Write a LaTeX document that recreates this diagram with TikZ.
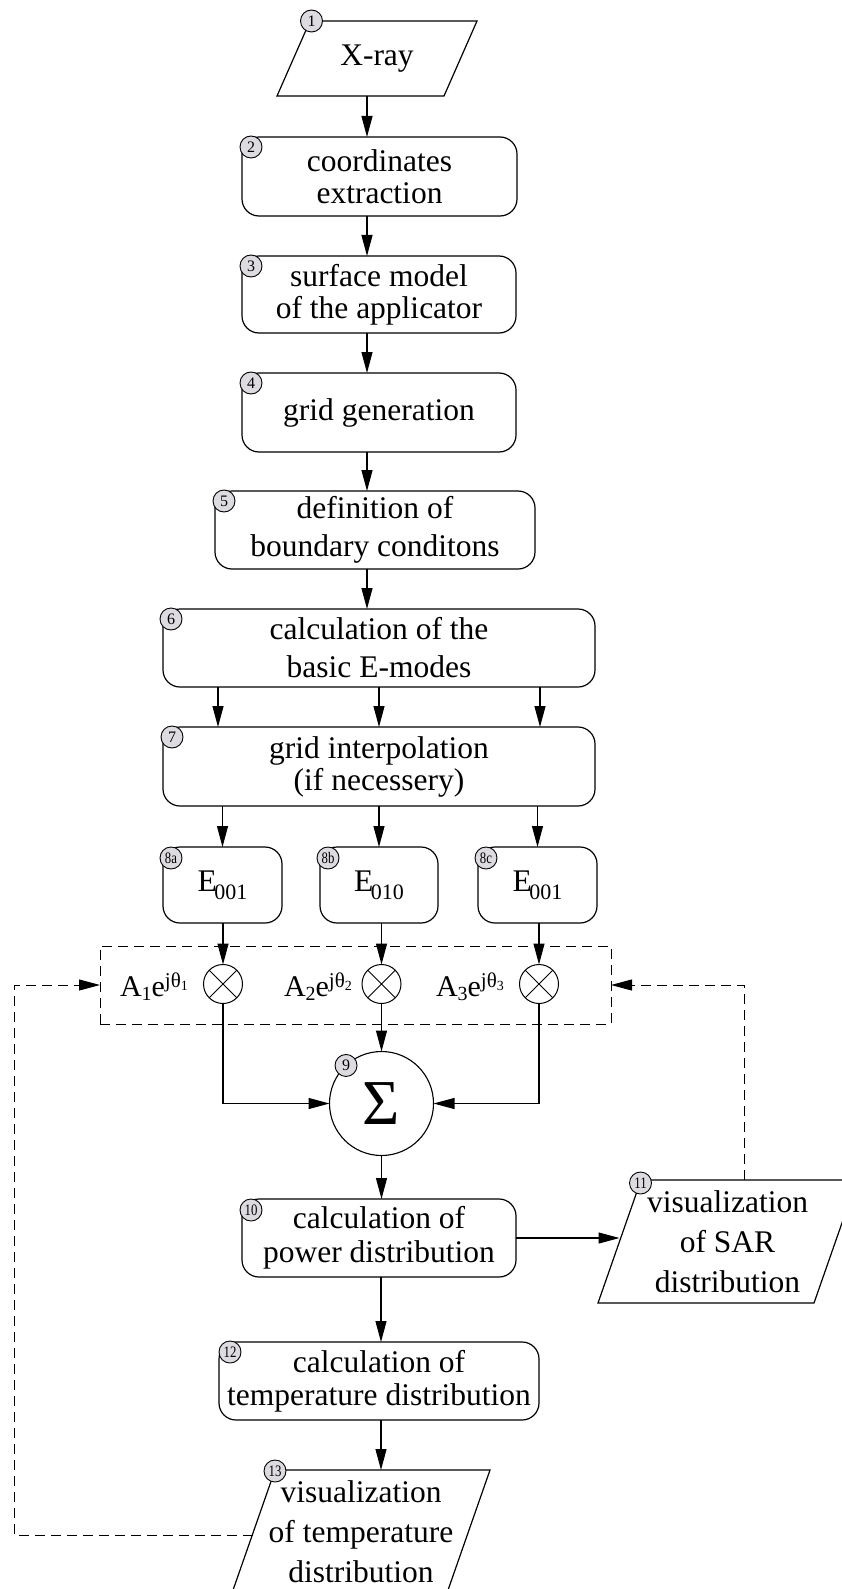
\documentclass[tikz,border=0pt]{standalone}
\usepackage{fontspec}
\setmainfont{Liberation Serif}
\usepackage{graphicx}
\usetikzlibrary{arrows.meta}
\definecolor{lblgray}{RGB}{221,219,224}
\newcommand{\fs}[2]{\fontsize{#1}{#2}\selectfont}
\newcommand{\Aexp}[1]{\fs{30}{30}A\raisebox{-4pt}{\fs{20}{20}#1}e\raisebox{9pt}{\fs{21}{21}jθ\raisebox{-3pt}{\fs{14}{14}#1}}}
\newcommand{\Emode}[1]{E\kern-2.5pt\raisebox{-8pt}{\fs{22}{22}#1}}
\newcommand{\twoch}[1]{\scalebox{0.8}[1]{#1}}
\begin{document}
\begin{tikzpicture}[x=1pt,y=-1pt,
  every node/.style={inner sep=0pt, outer sep=0pt},
  box/.style={draw, rounded corners=17pt, line width=1.2pt, align=center, font=\fs{31.5}{32}},
  para/.style={align=center, font=\fs{31.5}{40}},
  paraline/.style={line width=1.2pt},
  numc/.style={circle, draw, fill=lblgray, minimum size=22pt, line width=0.9pt, font=\fs{16}{16}},
  arr/.style={line width=1.1pt, -{Triangle[length=21pt,width=11pt]}},
  darr/.style={line width=1pt, dash pattern=on 10pt off 6pt, -{Triangle[length=21pt,width=11pt]}},
  otimes/.style={circle, draw, line width=1pt, minimum size=39pt},
  ]
\useasboundingbox (0,0) rectangle (842,1589);

% 1
\node[para, minimum width=167pt, minimum height=75pt] (p1) at (377,58.5) {X-ray};
\draw[paraline] ([xshift=16.5pt]p1.north west) -- ([xshift=16.5pt]p1.north east) -- ([xshift=-16.5pt]p1.south east) -- ([xshift=-16.5pt]p1.south west) -- cycle;
\node[numc] (n1) at ([xshift=18pt]p1.north west) {1};

% boxes
\node[box, minimum width=275pt, minimum height=79pt] (b2) at (379.5,176.5) {coordinates\\extraction};
\node[numc] (n2) at ([shift={(9,10)}]b2.north west) {2};
\node[box, minimum width=274pt, minimum height=77pt] (b3) at (379,294.5) {surface model\\of the applicator};
\node[numc] (n3) at ([shift={(9,10)}]b3.north west) {3};
\node[box, minimum width=274pt, minimum height=79pt] (b4) at (379,412.5) {grid generation};
\node[numc] (n4) at ([shift={(9,10)}]b4.north west) {4};
\node[box, minimum width=320pt, minimum height=78pt, font=\fs{31.5}{38}] (b5) at (375,530) {definition of\\boundary conditons};
\node[numc] (n5) at ([shift={(9,10)}]b5.north west) {5};
\node[box, minimum width=432pt, minimum height=78pt, font=\fs{31.5}{38}] (b6) at (379,648) {calculation of the\\basic E-modes};
\node[numc] (n6) at ([shift={(8,10)}]b6.north west) {6};
\node[box, minimum width=432pt, minimum height=79pt] (b7) at (379,766.5) {grid interpolation\\(if necessery)};
\node[numc] (n7) at ([shift={(9,10)}]b7.north west) {7};

% E modes
\node[box, minimum width=119pt, minimum height=76pt] (e8a) at (222.5,885) {\Emode{001}};
\node[numc] (n8a) at ([shift={(8,11)}]e8a.north west) {\twoch{8a}};
\node[box, minimum width=118pt, minimum height=76pt] (e8b) at (379,885) {\Emode{010}};
\node[numc] (n8b) at ([shift={(8,11)}]e8b.north west) {\twoch{8b}};
\node[box, minimum width=119pt, minimum height=76pt] (e8c) at (537.5,885) {\Emode{001}};
\node[numc] (n8c) at ([shift={(8,11)}]e8c.north west) {\twoch{8c}};

% weighting block
\node[draw, line width=1pt, dash pattern=on 10pt off 6pt, minimum width=511pt, minimum height=78pt] (dbox) at (355.5,985) {};
\node[otimes] (ot1) at (223,984) {};
\node[otimes] (ot2) at (381.5,984) {};
\node[otimes] (ot3) at (539,984) {};
\foreach \o in {ot1,ot2,ot3}
  \draw[line width=1pt] (\o.45) -- (\o.225) (\o.135) -- (\o.315);
\node[anchor=base west] (a1) at (120,996) {\Aexp{1}};
\node[anchor=base west] (a2) at (284,996) {\Aexp{2}};
\node[anchor=base west] (a3) at (436,996) {\Aexp{3}};

% sum
\node[circle, draw, line width=1.1pt, minimum size=104pt, font=\fs{64}{64}] (sigma) at (381.5,1103.5) {Σ};
\node[numc] (n9) at (sigma.133) {9};

% lower part
\node[box, minimum width=274pt, minimum height=78pt, font=\fs{31.5}{34}] (b10) at (379,1238) {calculation of\\power distribution};
\node[numc] (n10) at ([shift={(9,11)}]b10.north west) {\twoch{10}};
\node[para, minimum width=216pt, minimum height=123pt] (p11) at (727.5,1241.5) {visualization\\of SAR\\distribution};
\draw[paraline] ([xshift=21.5pt]p11.north west) -- ([xshift=21.5pt]p11.north east) -- ([xshift=-21.5pt]p11.south east) -- ([xshift=-21.5pt]p11.south west) -- cycle;
\node[numc] (n11) at ([shift={(21,3)}]p11.north west) {\twoch{11}};
\node[box, minimum width=320pt, minimum height=78pt, font=\fs{31.5}{33}] (b12) at (379,1381) {calculation of\\temperature distribution};
\node[numc] (n12) at ([shift={(11,10)}]b12.north west) {\twoch{12}};
\node[para, minimum width=215pt, minimum height=123pt] (p13) at (361,1531.5) {visualization\\of temperature\\distribution};
\draw[paraline] ([xshift=21.5pt]p13.north west) -- ([xshift=21.5pt]p13.north east) -- ([xshift=-21.5pt]p13.south east) -- ([xshift=-21.5pt]p13.south west) -- cycle;
\node[numc] (n13) at ([shift={(21.5,1)}]p13.north west) {\twoch{13}};

% connectors
\coordinate (colA) at (367,0);
\coordinate (colB) at (381,0);
\coordinate (c6a) at (218,0);
\coordinate (c6b) at (379,0);
\coordinate (c6c) at (540,0);
\draw[arr] (p1.south -| colA) -- (b2.north -| colA);
\draw[arr] (b2.south -| colA) -- (b3.north -| colA);
\draw[arr] (b3.south -| colA) -- (b4.north -| colA);
\draw[arr] (b4.south -| colA) -- (b5.north -| colA);
\draw[arr] (b5.south -| colA) -- (b6.north -| colA);
\foreach \c in {c6a,c6b,c6c}
  \draw[arr] (b6.south -| \c) -- (b7.north -| \c);
\foreach \e in {e8a,e8b,e8c}
  \draw[arr] (b7.south -| \e.north) -- (\e.north);
\draw[arr] (e8a.south -| ot1.north) -- (ot1.north);
\draw[arr] (e8b.south -| ot2.north) -- (ot2.north);
\draw[arr] (e8c.south -| ot3.north) -- (ot3.north);
\draw[arr] (ot1.south) |- (sigma.west);
\draw[arr] (ot2.south) -- (sigma.north);
\draw[arr] (ot3.south) |- (sigma.east);
\draw[arr] (sigma.south) -- (b10.north -| sigma.south);
\draw[arr] (b10.east) -- (b10.east -| p11.west);
\draw[arr] (b10.south -| colB) -- (b12.north -| colB);
\draw[arr] (b12.south -| colB) -- (p13.north -| colB);

% feedback
\coordinate (fbL) at (14,985);
\coordinate (fbR) at (744,985);
\draw[darr] ([shift={(-1,3.5)}]p13.west) -| (fbL) -- (dbox.west);
\draw[darr] (p11.north -| fbR) -- (fbR) -- (dbox.east);
\end{tikzpicture}
\end{document}
